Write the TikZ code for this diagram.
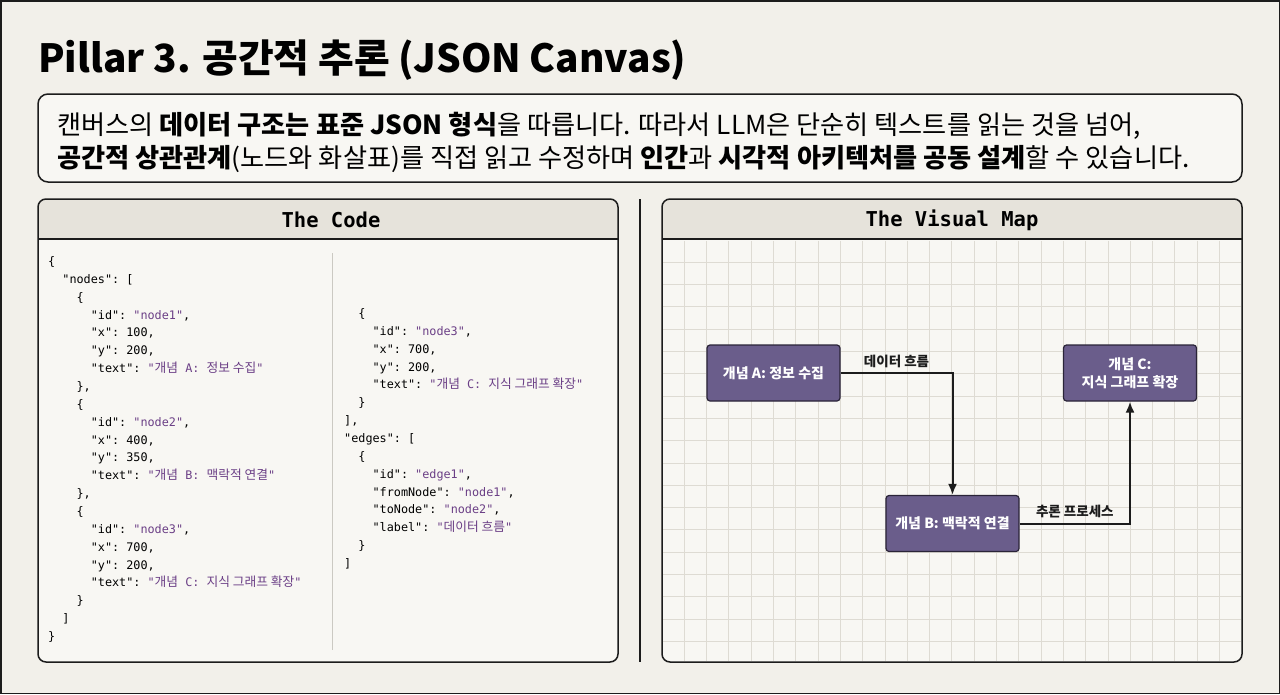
\documentclass[tikz,border=0pt]{standalone}
\usepackage{fontspec}
\usepackage{xcolor}
\usepackage{tikz}
\usetikzlibrary{arrows.meta,positioning}
\setmainfont{Noto Sans CJK KR}
\setmonofont{DejaVu Sans Mono}
\newfontfamily\kofont[Scale=1.08]{Noto Sans CJK KR}

\definecolor{bgcol}{HTML}{F2F0EA}
\definecolor{panelcol}{HTML}{F8F7F3}
\definecolor{hdrcol}{HTML}{E6E3DB}
\definecolor{ink}{HTML}{1C1C1C}
\definecolor{gridcol}{HTML}{DEDBD3}
\definecolor{conceptcol}{HTML}{6A5D8B}
\definecolor{conceptedge}{HTML}{2A2438}
\definecolor{strcol}{HTML}{6B3F86}

\newcommand\str[1]{\textcolor{strcol}{"#1"}}
\newcommand\ko[1]{{\kofont #1}}

\tikzset{
  panel/.style={draw=ink, line width=1.5pt, rounded corners=8pt, fill=panelcol,
    minimum width=580pt, minimum height=463pt, inner sep=0pt,
    path picture={
      \fill[hdrcol, sharp corners] (path picture bounding box.north west)
        rectangle ([yshift=-40pt]path picture bounding box.north east);
      \draw[ink, line width=1.5pt, sharp corners] ([yshift=-40pt]path picture bounding box.north west)
        -- ([yshift=-40pt]path picture bounding box.north east);}},
  hdrtext/.style={font=\ttfamily\bfseries\fontsize{20.5}{24}\selectfont},
  codeline/.style={anchor=base west, inner sep=0pt, font=\ttfamily\fontsize{11.8}{14}\selectfont},
  concept/.style={draw=conceptedge, line width=1.2pt, fill=conceptcol, rounded corners=3pt,
    minimum width=133pt, minimum height=56pt, align=center, text=white,
    font=\bfseries\fontsize{14}{18}\selectfont},
  flow/.style={ink, line width=2pt, -{Latex[length=11pt,width=9pt]}},
  flowlabel/.style={font=\bfseries\fontsize{13.5}{16}\selectfont, above=1pt}
}

\begin{document}
\begin{tikzpicture}[x=1pt, y=-1pt]
  \fill[bgcol] (0,0) rectangle (1280,694);
  \draw[ink, line width=1.5pt] (0.75,0.75) rectangle (1279.25,693.25);

  \node[anchor=base west, inner sep=0pt, font=\bfseries\fontsize{38.8}{44}\selectfont] (title)
    at (38,72) {Pillar 3. 공간적 추론 (JSON Canvas)};

  \node[draw=ink, line width=1.5pt, rounded corners=10pt, fill=panelcol,
    minimum width=1204pt, minimum height=88pt] (desc) at (640,138) {};
  \node[anchor=base west, inner sep=0pt, font=\fontsize{26.2}{30}\selectfont] (d1) at (57,134)
    {캔버스의 \textbf{데이터 구조는 표준 JSON 형식}을 따릅니다. 따라서 LLM은 단순히 텍스트를 읽는 것을 넘어,};
  \node[anchor=base west, inner sep=0pt, font=\fontsize{26.2}{30}\selectfont] (d2) at (57,167)
    {\textbf{공간적 상관관계}(노드와 화살표)를 직접 읽고 수정하며 \textbf{인간}과 \textbf{시각적 아키텍처를 공동 설계}할 수 있습니다.};

  \node[panel] (code) at (328,430.5) {};
  \node[hdrtext] (codehdr) at (331,220) {The Code};
  \draw[gridcol!80!gray, line width=0.8pt] (332,253) -- (332,650);

  \node[panel] (map) at (952,430.5) {};
  \node[hdrtext] (maphdr) at (952,220) {The Visual Map};
  \foreach \k in {1,...,25}
    \draw[gridcol, line width=1pt] ({662+22.3*\k},240.8) -- ({662+22.3*\k},661.2);
  \foreach \k in {1,...,18}
    \draw[gridcol, line width=1pt] (662.8,{240+22.3*\k}) -- (1241.2,{240+22.3*\k});

  \draw[ink, line width=2pt] (640,199) -- (640,662);

  % left column of the json
  \foreach \ind/\txt [count=\n] in {
      0/{\{}, 2/{"nodes": [}, 4/{\{},
      6/{"id": \str{node1},}, 6/{"x": 100,}, 6/{"y": 200,},
      6/{"text": \str{\ko{개념} A: \ko{정보 수집}}}, 4/{\},}, 4/{\{},
      6/{"id": \str{node2},}, 6/{"x": 400,}, 6/{"y": 350,},
      6/{"text": \str{\ko{개념} B: \ko{맥락적 연결}}}, 4/{\},}, 4/{\{},
      6/{"id": \str{node3},}, 6/{"x": 700,}, 6/{"y": 200,},
      6/{"text": \str{\ko{개념} C: \ko{지식 그래프 확장}}}, 4/{\}}, 2/{]}, 0/{\}}}
    \node[codeline] (l\n) at ({48+7.1*\ind},{265.5+17.86*(\n-1)}) {\txt};

  \foreach \ind/\txt [count=\n] in {
      2/{\{}, 4/{"id": \str{node3},}, 4/{"x": 700,}, 4/{"y": 200,},
      4/{"text": \str{\ko{개념} C: \ko{지식 그래프 확장}}}, 2/{\}}, 0/{],},
      0/{"edges": [}, 2/{\{}, 4/{"id": \str{edge1},},
      4/{"fromNode": \str{node1},}, 4/{"toNode": \str{node2},},
      4/{"label": \str{\ko{데이터 흐름}}}, 2/{\}}, 0/{]}}
    \node[codeline] (r\n) at ({344+7.1*\ind},{317.5+17.86*(\n-1)}) {\txt};

  \node[concept] (conceptA) at (773.5,373) {개념 A: 정보 수집};
  \node[concept] (conceptC) at (1130,373) {개념 C:\\지식 그래프 확장};
  \node[concept] (conceptB) at (952.5,523.5) {개념 B: 맥락적 연결};

  \draw[flow] (conceptA) -| (conceptB) node[flowlabel, pos=0.25] {데이터 흐름};
  \draw[flow] (conceptB) -| (conceptC) node[flowlabel, pos=0.25] {추론 프로세스};
\end{tikzpicture}
\end{document}
